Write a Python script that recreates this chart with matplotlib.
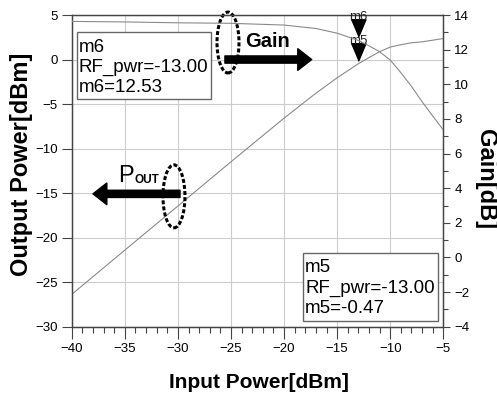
import numpy as np
import matplotlib.pyplot as plt
from matplotlib.patches import Ellipse, Rectangle
from matplotlib.ticker import MultipleLocator

plt.rcParams['font.family'] = ['Liberation Sans', 'DejaVu Sans']

# values
pin = [-40, -35, -30, -25, -20, -17, -15, -13, -12, -11, -10, -9, -8, -7, -6, -5]
gain = [13.63, 13.60, 13.55, 13.52, 13.42, 13.22, 12.95, 12.53, 12.22, 11.88,
        11.40, 10.67, 9.88, 8.99, 8.17, 7.36]
pout = [-26.37, -21.40, -16.45, -11.48, -6.58, -3.78, -2.05, -0.47, 0.22, 0.88,
        1.40, 1.67, 1.88, 1.99, 2.17, 2.36]
m_pin = -13.0
m6_gain = 12.53
m5_pout = -0.47
m6_lines = ['m6', 'RF_pwr=-13.00', 'm6=12.53']
m5_lines = ['m5', 'RF_pwr=-13.00', 'm5=-0.47']

fig = plt.figure(figsize=(4.97, 3.97), dpi=100)
ax = fig.add_axes([0.1443, 0.177, 0.7477, 0.7852])
ax2 = ax.twinx()

spine_c = '#444444'
line_c = '#8a8a8a'

ax.plot(pin, pout, color=line_c, lw=0.8, zorder=3)
ax2.plot(pin, gain, color=line_c, lw=0.8, zorder=3)

# markers: down triangle with its tip just above the point
tri = [(-0.36, 1.0), (0.36, 1.0), (0.0, 0.15)]
ax.plot([m_pin], [m5_pout], marker=tri, markersize=30, color='black', ls='none', zorder=5)
ax2.plot([m_pin], [m6_gain], marker=tri, markersize=30, color='black', ls='none', zorder=5)
ax.annotate('m5', (m_pin, m5_pout), xytext=(0, 14), textcoords='offset points',
            ha='center', va='baseline', fontsize=9.5, color='#222222', zorder=6)
ax2.annotate('m6', (m_pin, m6_gain), xytext=(0, 14.8), textcoords='offset points',
             ha='center', va='baseline', fontsize=9.5, color='#222222', zorder=6,
             annotation_clip=False)

ax.set_xlim(-40, -5)
ax.set_ylim(-30, 5)
ax2.set_ylim(-4, 14)

ax.xaxis.set_major_locator(MultipleLocator(5))
ax.xaxis.set_minor_locator(MultipleLocator(1))
ax.yaxis.set_major_locator(MultipleLocator(5))
ax2.yaxis.set_major_locator(MultipleLocator(2))
ax2.yaxis.set_minor_locator(MultipleLocator(1))

ax.grid(True, which='major', color='#cccccc', lw=0.8, zorder=0)
ax.set_axisbelow(True)

ax.tick_params(axis='x', which='major', direction='out', length=8.5, width=0.8,
               color=spine_c, labelsize=9.5, pad=3)
ax.tick_params(axis='x', which='minor', direction='out', length=4.3, width=0.8, color=spine_c)
ax.tick_params(axis='y', which='major', direction='out', length=7.2, width=0.8,
               color=spine_c, labelsize=9.5, pad=3)
ax2.tick_params(axis='y', which='major', direction='out', length=5, width=0.8,
                color=spine_c, labelsize=9.5, pad=3)
ax2.tick_params(axis='y', which='minor', direction='out', length=3.5, width=0.8, color=spine_c)

for a in (ax, ax2):
    for s in a.spines.values():
        s.set_color(spine_c)
        s.set_linewidth(0.9)

# marker readout boxes
ax.add_patch(Rectangle((0.0135, 0.7295), 0.3615, 0.215, transform=ax.transAxes,
                       facecolor='white', edgecolor='#666666', lw=1.0, zorder=7))
for txt, yy in zip(m6_lines, [0.8823, 0.8182, 0.7540]):
    ax.text(0.0178, yy, txt, transform=ax.transAxes, fontsize=13.5,
            va='baseline', ha='left', zorder=8)
ax.add_patch(Rectangle((0.6233, 0.0193), 0.3632, 0.2162, transform=ax.transAxes,
                       facecolor='white', edgecolor='#666666', lw=1.0, zorder=7))
for txt, yy in zip(m5_lines, [0.1765, 0.1091, 0.0430]):
    ax.text(0.6278, yy, txt, transform=ax.transAxes, fontsize=13.5,
            va='baseline', ha='left', zorder=8)

# arrows and dashed ellipses
arrow_style = 'simple,head_length=0.5,head_width=0.78,tail_width=0.26'
ax.annotate('', xy=(-17.4, 0.0), xytext=(-25.57, 0.0),
            arrowprops=dict(arrowstyle=arrow_style, color='black', mutation_scale=20,
                            shrinkA=0, shrinkB=0), zorder=6)
ax.annotate('', xy=(-38.0, -15.08), xytext=(-29.8, -15.08),
            arrowprops=dict(arrowstyle=arrow_style, color='black', mutation_scale=20,
                            shrinkA=0, shrinkB=0), zorder=6)
ax.add_patch(Ellipse((-25.28, 1.91), 2.07, 6.84, fill=False, ec='black', lw=2.2,
                     ls=(0, (1.3, 0.7)), clip_on=False, zorder=6))
ax.add_patch(Ellipse((-30.37, -15.36), 2.07, 7.07, fill=False, ec='black', lw=2.2,
                     ls=(0, (1.3, 0.7)), clip_on=False, zorder=6))

ax.text(-23.68, 1.44, 'Gain', fontsize=14.5, fontweight='bold', ha='left',
        va='baseline', zorder=6)
ax.text(-35.64, -13.73, 'P', fontsize=17, ha='left', va='baseline', zorder=6)
ax.text(-34.04, -13.85, 'OUT', fontsize=8.5, fontweight='bold', ha='left',
        va='baseline', zorder=6)

fig.text(0.0423, 0.587, 'Output Power[dBm]', rotation=90, fontsize=17,
         fontweight='bold', ha='center', va='center')
fig.text(0.976, 0.550, 'Gain[dB]', rotation=-90, fontsize=17,
         fontweight='bold', ha='center', va='center')
fig.text(0.520, 0.0219, 'Input Power[dBm]', fontsize=15, fontweight='bold',
         ha='center', va='baseline')

fig.savefig('out.png', dpi=100)
